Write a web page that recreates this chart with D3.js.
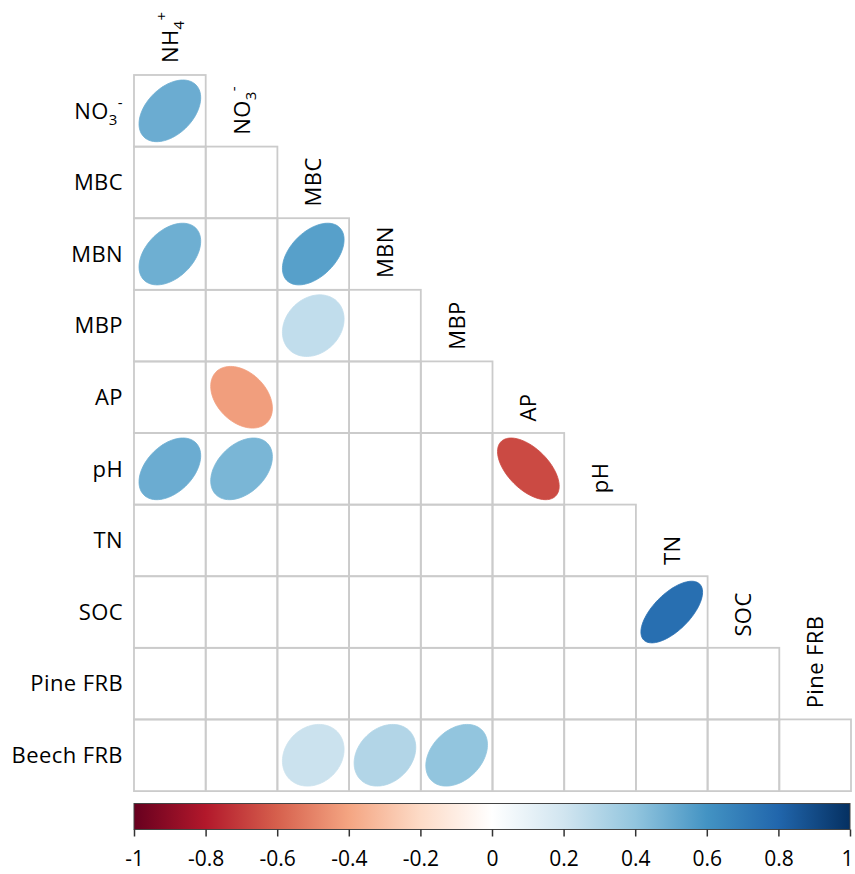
<!DOCTYPE html>
<html>
<head>
<meta charset="utf-8">
<script src="https://cdn.jsdelivr.net/npm/d3@7"></script>
<style>
  body { margin: 0; background: #fff; }
  text { font-family: "Open Sans", sans-serif; fill: #000; }
</style>
</head>
<body>
<div id="chart"></div>
<script>
// variables of the lower-triangle correlation matrix
const rowVars = ["NO3", "MBC", "MBN", "MBP", "AP", "pH", "TN", "SOC", "Pine FRB", "Beech FRB"];
const colVars = ["NH4", "NO3", "MBC", "MBN", "MBP", "AP", "pH", "TN", "SOC", "Pine FRB"];

// significant correlations only (others left blank)
const corrRows = ["NO3", "MBN", "MBN", "MBP", "AP", "pH", "pH", "pH", "SOC", "Beech FRB", "Beech FRB", "Beech FRB"];
const corrCols = ["NH4", "NH4", "MBC", "MBC", "NO3", "NH4", "NO3", "AP", "TN", "MBC", "MBN", "MBP"];
const corrVals = [0.5, 0.49, 0.55, 0.25, -0.42, 0.5, 0.46, -0.66, 0.76, 0.22, 0.3, 0.4];

// colour legend
const legendTicks = [-1, -0.8, -0.6, -0.4, -0.2, 0, 0.2, 0.4, 0.6, 0.8, 1];
const rdbu = ["#67001F", "#B2182B", "#D6604D", "#F4A582", "#FDDBC7", "#FFFFFF",
              "#D1E5F0", "#92C5DE", "#4393C3", "#2166AC", "#053061"];

// labels with sub/superscripts
const labelParts = {
  NH4: ["NH", "4", "+"],
  NO3: ["NO", "3", "-"]
};

const width = 855, height = 874;
const gLeft = 134, gTop = 75, gRight = 851, gBottom = 791;
const fontSize = 22;

const svg = d3.select("#chart").append("svg")
  .attr("width", width)
  .attr("height", height);

const x = d3.scaleBand().domain(colVars).range([gLeft, gRight]);
const y = d3.scaleBand().domain(rowVars).range([gTop, gBottom]);
const s = x.bandwidth();

const color = d3.scaleLinear().domain(legendTicks).range(rdbu);

// grid cells (lower triangle incl. diagonal of this layout)
const cells = [];
rowVars.forEach((r, i) => {
  colVars.forEach((c, j) => { if (j <= i) cells.push({ r, c }); });
});

svg.append("g").selectAll("rect")
  .data(cells)
  .enter().append("rect")
  .attr("x", d => x(d.c))
  .attr("y", d => y(d.r))
  .attr("width", s)
  .attr("height", s)
  .attr("fill", "none")
  .attr("stroke", "#cbcbcb")
  .attr("stroke-width", 1.8);

// corrplot style ellipse (shape drawn a little rounder than the raw rho)
function ellipse(rho) {
  const a = Math.acos(rho * 0.85);
  const pts = d3.range(0, 99).map(k => {
    const t = k / 98 * 2 * Math.PI;
    return [Math.cos(t + a / 2) / 2 * 0.86 * s, -Math.cos(t - a / 2) / 2 * 0.86 * s];
  });
  return d3.line()(pts) + "Z";
}

const corr = corrVals.map((v, i) => ({ r: corrRows[i], c: corrCols[i], v }));

svg.append("g").selectAll("path")
  .data(corr)
  .enter().append("path")
  .attr("transform", d => "translate(" + (x(d.c) + s / 2) + "," + (y(d.r) + s / 2) + ")")
  .attr("d", d => ellipse(d.v))
  .attr("fill", d => color(d.v))
  .attr("stroke", d => color(d.v))
  .attr("stroke-width", 0.8);

function writeLabel(sel, name) {
  const p = labelParts[name];
  if (!p) { sel.text(name); return; }
  sel.append("tspan").text(p[0]);
  sel.append("tspan").text(p[1]).attr("font-size", 15).attr("dy", 6);
  sel.append("tspan").text(p[2]).attr("font-size", 15).attr("dy", -17);
}

// row labels
svg.append("g").selectAll("text")
  .data(rowVars)
  .enter().append("text")
  .attr("x", 123)
  .attr("y", d => y(d) + s / 2)
  .attr("dy", "0.35em")
  .attr("text-anchor", "end")
  .attr("font-size", fontSize)
  .attr("letter-spacing", 0.4)
  .each(function (d) { writeLabel(d3.select(this), d); });

// column labels, rotated, sitting above the top cell of each column
svg.append("g").selectAll("text")
  .data(colVars)
  .enter().append("text")
  .attr("transform", (d, j) => "translate(" + (x(d) + s / 2 + 8) + "," + (gTop + j * s - 12) + ") rotate(-90)")
  .attr("font-size", fontSize)
  .attr("letter-spacing", 0.4)
  .each(function (d) { writeLabel(d3.select(this), d); });

// colour bar
const barTop = 803.5, barH = 26;
const lx = d3.scaleLinear().domain([-1, 1]).range([gLeft, gRight - 1]);

const grad = svg.append("defs").append("linearGradient")
  .attr("id", "rdbu")
  .attr("x1", "0%").attr("x2", "100%");
grad.selectAll("stop")
  .data(legendTicks)
  .enter().append("stop")
  .attr("offset", (d, i) => (i / (legendTicks.length - 1) * 100) + "%")
  .attr("stop-color", (d, i) => rdbu[i]);

svg.append("rect")
  .attr("x", lx(-1))
  .attr("y", barTop)
  .attr("width", lx(1) - lx(-1))
  .attr("height", barH)
  .attr("fill", "url(#rdbu)")
  .attr("stroke", "#444")
  .attr("stroke-width", 1);

const axis = svg.append("g")
  .attr("transform", "translate(0," + (barTop + barH) + ")")
  .call(d3.axisBottom(lx)
    .tickValues(legendTicks)
    .tickSize(7)
    .tickPadding(15)
    .tickFormat(d => String(+d.toFixed(1))));
axis.select(".domain").remove();
axis.selectAll("line").attr("stroke", "#333").attr("stroke-width", 1.5);
axis.selectAll("text")
  .attr("font-size", 21)
  .style("font-family", "'Open Sans', sans-serif")
  .attr("fill", "#000")
  .attr("dx", d => d === 1 ? -3 : 0);
</script>
</body>
</html>
